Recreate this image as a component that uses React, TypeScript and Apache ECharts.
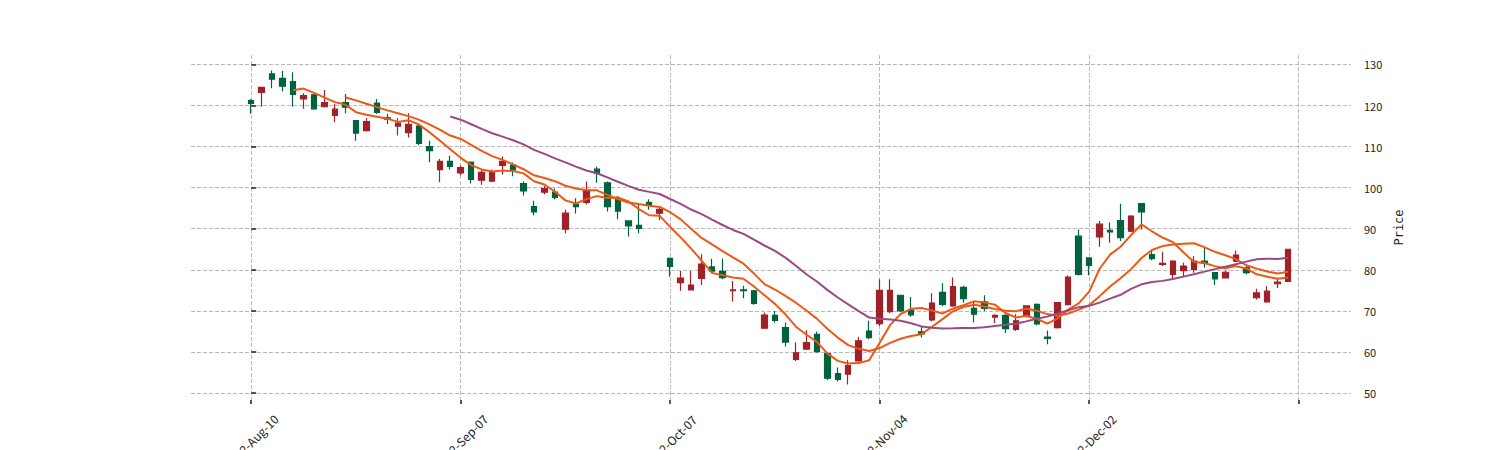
import React, { useEffect, useRef } from "react";
import * as echarts from "echarts";

// Candle values (index 0..99)
const opens = [
  121.2, 123.2, 127.7, 126.6, 125.8, 121.6, 122.6, 119.7, 117.6, 120.7,
  116.3, 113.9, 120.6, 117.0, 115.0, 113.4, 115.0, 110.0, 104.4, 106.4,
  103.6, 106.2, 101.8, 101.6, 105.4, 105.5, 101.0, 95.4, 98.9, 98.9,
  89.9, 95.9, 96.4, 104.5, 101.2, 97.2, 91.9, 90.8, 96.4, 93.8,
  82.8, 76.9, 75.1, 77.9, 80.7, 79.6, 74.9, 75.1, 74.9, 65.8,
  68.9, 65.9, 58.2, 60.7, 64.3, 59.6, 54.7, 54.6, 57.8, 65.1,
  66.9, 69.8, 73.8, 70.2, 64.9, 67.8, 74.5, 71.2, 75.7, 70.6,
  72.2, 68.5, 68.9, 65.5, 68.8, 71.6, 63.6, 65.9, 71.5, 88.2,
  82.9, 88.0, 89.6, 92.0, 89.4, 96.1, 83.7, 81.3, 78.9, 79.8,
  80.1, 82.1, 79.3, 78.0, 82.1, 80.5, 73.2, 72.2, 76.6, 77.2,
];
const closes = [
  120.5, 124.4, 126.4, 124.7, 122.7, 122.4, 119.2, 120.7, 119.1, 119.6,
  113.3, 116.1, 118.3, 116.7, 115.7, 115.4, 110.8, 109.0, 106.4, 105.2,
  104.9, 102.0, 103.7, 103.8, 106.4, 104.3, 99.2, 94.1, 99.8, 97.6,
  93.8, 95.4, 99.4, 103.5, 95.4, 94.3, 90.7, 90.1, 95.9, 94.7,
  80.8, 78.0, 76.3, 81.4, 79.7, 78.1, 75.1, 74.9, 71.8, 69.0,
  67.7, 62.4, 59.8, 62.3, 60.1, 53.6, 53.3, 56.7, 62.7, 63.5,
  75.0, 75.0, 70.0, 69.0, 64.4, 71.9, 71.6, 75.9, 73.0, 69.2,
  70.6, 68.9, 65.7, 67.6, 71.2, 66.8, 63.3, 72.0, 78.2, 78.9,
  81.1, 91.1, 89.2, 87.8, 93.1, 94.1, 82.7, 81.6, 82.1, 80.9,
  82.1, 81.6, 77.8, 79.4, 83.6, 79.3, 74.4, 74.8, 77.0, 85.0,
];
const highs = [
  121.6, 124.5, 128.5, 128.4, 128.1, 123.0, 122.8, 123.8, 120.4, 122.8,
  116.4, 116.9, 121.6, 118.0, 116.9, 118.1, 115.3, 111.4, 107.0, 107.8,
  105.4, 106.4, 104.4, 104.4, 107.6, 106.1, 101.5, 96.8, 100.4, 99.8,
  94.6, 97.4, 101.5, 105.1, 101.5, 98.0, 92.0, 96.0, 97.2, 95.5,
  83.0, 79.7, 79.7, 83.8, 82.7, 82.7, 77.3, 76.1, 75.1, 69.6,
  70.0, 67.2, 62.3, 65.3, 65.0, 59.7, 56.2, 58.0, 63.7, 67.6,
  77.7, 77.7, 73.9, 73.4, 66.1, 74.3, 76.7, 78.1, 76.1, 72.2,
  73.8, 69.2, 69.2, 69.2, 71.4, 71.8, 65.2, 72.1, 78.6, 89.8,
  83.0, 91.9, 91.5, 96.1, 93.3, 96.2, 84.7, 84.4, 82.3, 81.7,
  83.3, 85.4, 79.4, 79.8, 84.7, 81.3, 75.4, 76.0, 78.0, 85.0,
];
const lows = [
  118.0, 119.7, 124.2, 123.4, 119.7, 119.2, 119.0, 119.5, 115.9, 118.1,
  111.4, 113.7, 118.0, 115.5, 112.7, 112.2, 110.4, 106.2, 101.3, 104.4,
  103.0, 101.0, 100.7, 101.3, 103.2, 102.8, 98.1, 93.3, 98.4, 97.2,
  88.9, 93.7, 95.9, 101.2, 94.2, 92.3, 88.1, 88.9, 94.6, 92.1,
  78.3, 74.9, 75.0, 76.3, 79.5, 77.7, 72.3, 73.1, 71.5, 65.6,
  67.2, 61.3, 57.8, 60.5, 59.8, 53.2, 52.8, 52.1, 57.6, 63.1,
  66.3, 69.4, 69.8, 68.6, 63.5, 67.4, 71.1, 71.0, 72.0, 67.2,
  70.0, 67.0, 64.6, 65.1, 68.4, 66.5, 61.9, 65.7, 71.4, 78.6,
  78.7, 85.6, 86.6, 87.0, 89.2, 89.8, 82.3, 80.9, 78.0, 78.5,
  79.3, 80.5, 76.3, 77.9, 81.9, 78.9, 72.8, 72.0, 75.6, 77.2,
];

const tickPositions = [0, 20, 40, 60, 80, 100];
const tickLabels = ["2022-Aug-10", "2022-Sep-07", "2022-Oct-07", "2022-Nov-04", "2022-Dec-02", ""];
const priceTicks = [50, 60, 70, 80, 90, 100, 110, 120, 130];
const maPeriods = [5, 10, 20];
const maColors = ["#ef5714", "#ef5714", "#9a4a82"];

function movingAverage(values: number[], period: number) {
  const out: number[][] = [];
  for (let i = period - 1; i < values.length; i++) {
    let s = 0;
    for (let j = i - period + 1; j <= i; j++) s += values[j];
    out.push([i, s / period]);
  }
  return out;
}

export default function App() {
  const ref = useRef<HTMLDivElement>(null);
  useEffect(() => {
    if (!ref.current) return;
    const chart = echarts.init(ref.current, undefined, { renderer: "svg" });
    const candles = opens.map((o, i) => [i, o, closes[i], lows[i], highs[i]]);
    const font = "'Noto Sans CJK SC', 'DejaVu Sans', sans-serif";
    const gridLine = { show: true, lineStyle: { color: "#a8a8a8", type: [4, 2], width: 0.8 } };
    chart.setOption({
      animation: false,
      backgroundColor: "#ffffff",
      grid: {
        left: 191,
        right: 149,
        top: 55,
        bottom: 50,
        containLabel: false,
        outerBoundsMode: "none",
      },
      xAxis: {
        type: "value",
        min: -5.75,
        max: 105.0,
        axisLine: { show: false },
        axisTick: {
          show: true,
          customValues: tickPositions,
          length: 4,
          lineStyle: { color: "#222", width: 1.5 },
        },
        axisLabel: {
          customValues: tickPositions,
          rotate: 45,
          align: "center",
          verticalAlign: "middle",
          margin: 41,
          fontFamily: font,
          fontSize: 12,
          color: "#222",
          formatter: (v: number) => {
            const k = tickPositions.indexOf(Math.round(v));
            return k >= 0 ? tickLabels[k] : "";
          },
        },
        splitLine: gridLine,
      },
      yAxis: {
        type: "value",
        position: "right",
        min: 48.3,
        max: 132.3,
        name: "Price",
        nameLocation: "middle",
        nameGap: 42,
        nameRotate: 90,
        nameTextStyle: { fontFamily: "'DejaVu Sans Mono', monospace", fontSize: 12, color: "#222" },
        axisLine: { show: false },
        axisTick: {
          show: true,
          customValues: priceTicks,
          length: 5,
          lineStyle: { color: "#222", width: 1.5 },
        },
        axisLabel: {
          customValues: priceTicks,
          margin: 13,
          fontFamily: font,
          fontSize: 11,
          color: "#222",
        },
        splitLine: gridLine,
      },
      series: [
        {
          type: "candlestick",
          data: candles,
          encode: { x: 0, y: [1, 2, 3, 4] },
          barWidth: 6,
          clip: false,
          itemStyle: {
            color: "#a02128",
            color0: "#006340",
            borderColor: "#a02128",
            borderColor0: "#006340",
            borderWidth: 1.2,
          },
        },
        ...maPeriods.map((p, k) => ({
          type: "line",
          data: movingAverage(closes, p),
          showSymbol: false,
          smooth: false,
          lineStyle: { color: maColors[k], width: 2 },
          z: 3,
        })),
      ],
    });
    return () => chart.dispose();
  }, []);
  return (
    <div
      ref={ref}
      style={{ position: "fixed", left: 0, top: 0, width: 1500, height: 450, background: "#fff" }}
    />
  );
}
